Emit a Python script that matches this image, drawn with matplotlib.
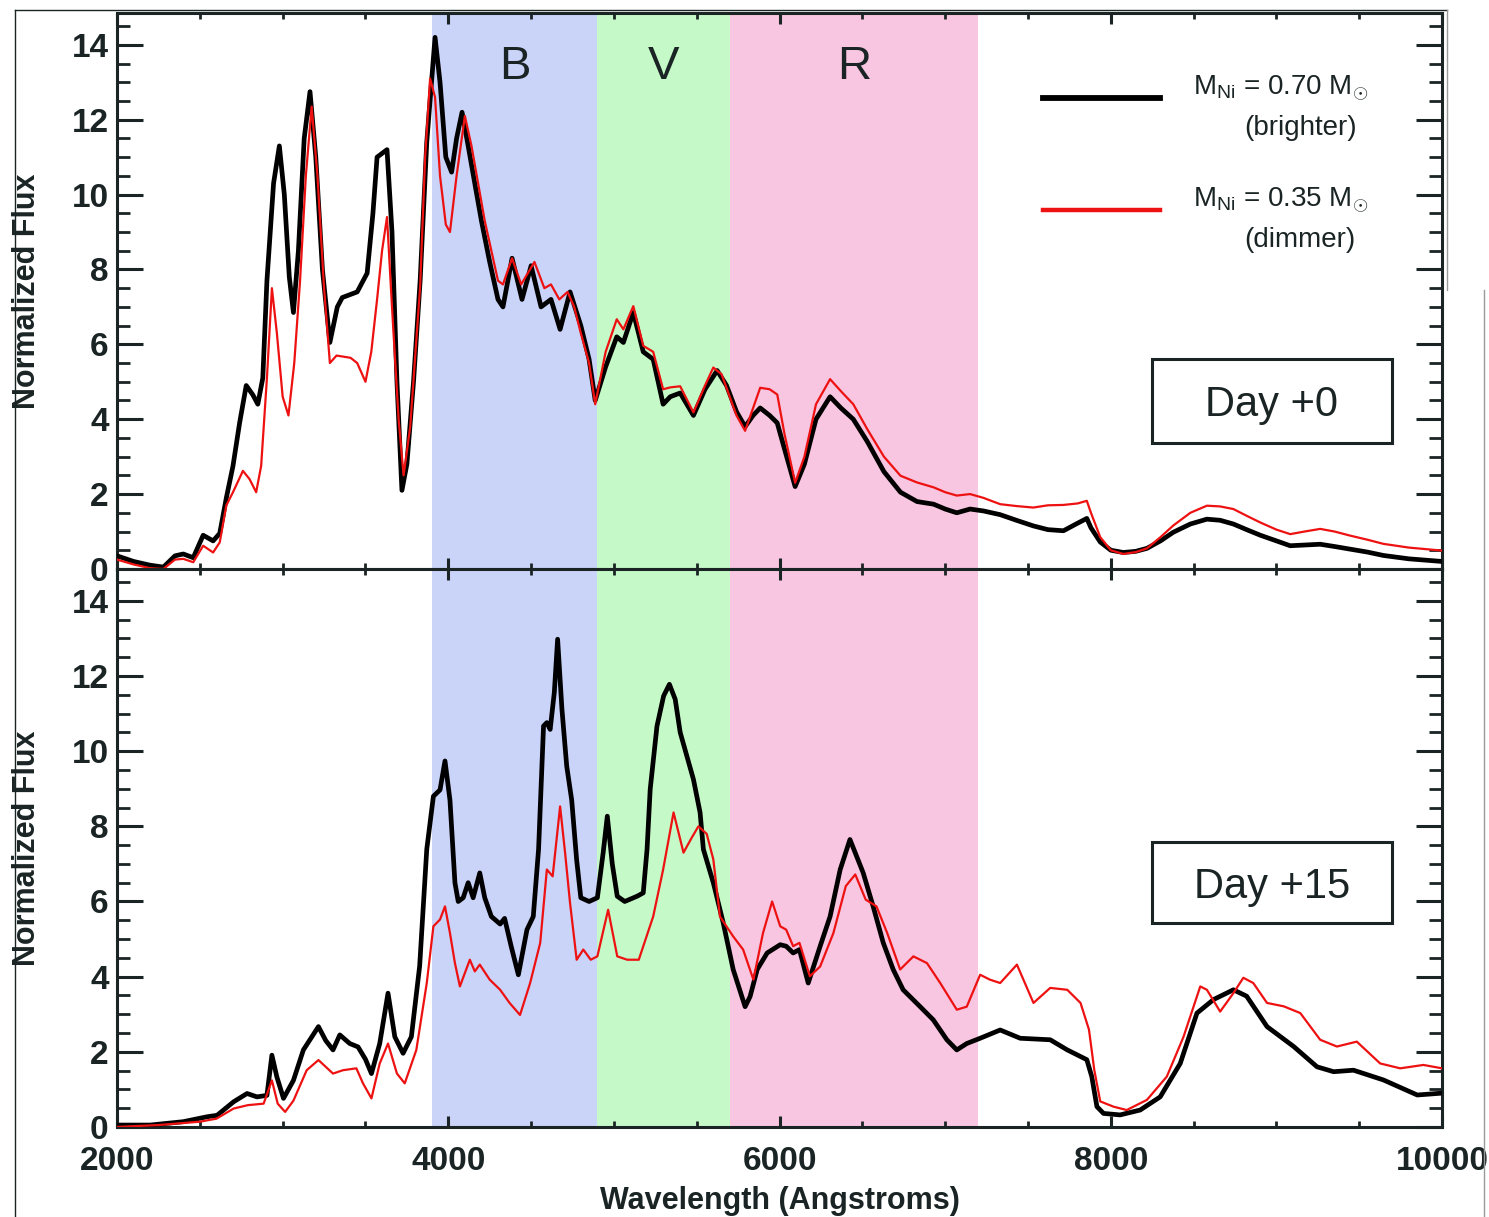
import numpy as np
import matplotlib
matplotlib.use("Agg")
import matplotlib.pyplot as plt
from matplotlib.ticker import MultipleLocator
from matplotlib.patches import Rectangle
from matplotlib.lines import Line2D

plt.rcParams['font.family'] = ['Liberation Sans', 'DejaVu Sans']
plt.rcParams['mathtext.fontset'] = 'custom'
plt.rcParams['mathtext.rm'] = 'Liberation Sans'
plt.rcParams['mathtext.it'] = 'Liberation Sans:italic'

INK = '#1b2424'

# ---- Day +0 spectra (wavelength in Angstroms, normalized flux)
wl_d0_bright = [2000, 2100, 2200, 2280, 2350, 2400, 2460, 2520, 2580, 2620, 2660, 2700, 2740, 2780,
                2820, 2850, 2880, 2905, 2945, 2980, 3010, 3040, 3065, 3095, 3130, 3165, 3200, 3240,
                3285, 3330, 3360, 3450, 3510, 3545, 3570, 3630, 3660, 3690, 3720, 3750, 3790, 3830,
                3870, 3920, 3950, 3985, 4020, 4050, 4083, 4120, 4160, 4200, 4250, 4300, 4330, 4385,
                4445, 4500, 4560, 4620, 4675, 4735, 4800, 4850, 4887, 4950, 5017, 5057, 5117, 5177,
                5237, 5297, 5340, 5400, 5480, 5550, 5623, 5680, 5740, 5792, 5840, 5883, 5940, 5986,
                6030, 6094, 6150, 6220, 6305, 6370, 6445, 6530, 6630, 6730, 6830, 6930, 7000, 7070,
                7150, 7230, 7332, 7430, 7532, 7620, 7714, 7790, 7855, 7880, 7936, 8000, 8075, 8150,
                8218, 8300, 8377, 8480, 8580, 8660, 8740, 8820, 8903, 9000, 9083, 9170, 9264, 9350,
                9445, 9550, 9646, 9800, 10000]
fx_d0_bright = [0.35, 0.2, 0.1, 0.05, 0.35, 0.4, 0.3, 0.9, 0.75, 0.95, 1.9, 2.75, 3.9, 4.9,
                4.65, 4.4, 5.1, 7.7, 10.3, 11.3, 10.0, 7.8, 6.85, 8.5, 11.5, 12.75, 11.0, 8.0,
                6.05, 7.0, 7.25, 7.4, 7.9, 9.5, 11.0, 11.2, 9.0, 5.0, 2.1, 2.8, 5.0, 7.7,
                11.4, 14.2, 13.0, 11.0, 10.6, 11.5, 12.2, 11.3, 10.3, 9.3, 8.2, 7.2, 7.0, 8.3,
                7.2, 8.1, 7.0, 7.2, 6.4, 7.4, 6.5, 5.6, 4.5, 5.4, 6.2, 6.05, 6.85, 5.8,
                5.6, 4.4, 4.6, 4.7, 4.1, 4.8, 5.3, 4.9, 4.2, 3.8, 4.1, 4.3, 4.1, 3.9,
                3.2, 2.2, 2.8, 4.0, 4.6, 4.3, 4.0, 3.4, 2.6, 2.05, 1.8, 1.73, 1.6, 1.5,
                1.6, 1.55, 1.45, 1.3, 1.15, 1.05, 1.02, 1.2, 1.35, 1.1, 0.72, 0.5, 0.44, 0.47,
                0.55, 0.75, 0.98, 1.2, 1.33, 1.3, 1.2, 1.05, 0.9, 0.75, 0.62, 0.64, 0.66, 0.6,
                0.53, 0.45, 0.36, 0.27, 0.2]

wl_d0_dim = [2000, 2100, 2200, 2280, 2350, 2400, 2460, 2520, 2580, 2620, 2660, 2700, 2760, 2800,
             2840, 2870, 2905, 2935, 2965, 3000, 3035, 3070, 3105, 3140, 3175, 3210, 3250, 3285,
             3325, 3410, 3450, 3500, 3535, 3570, 3600, 3630, 3660, 3700, 3730, 3770, 3830, 3860,
             3890, 3920, 3950, 3985, 4010, 4050, 4100, 4140, 4180, 4220, 4260, 4300, 4330, 4385,
             4440, 4520, 4580, 4620, 4670, 4720, 4760, 4800, 4850, 4887, 4950, 5017, 5057, 5117,
             5177, 5237, 5297, 5340, 5400, 5480, 5550, 5600, 5650, 5740, 5792, 5840, 5883, 5940,
             5986, 6030, 6094, 6150, 6220, 6305, 6370, 6445, 6530, 6630, 6730, 6830, 6930, 7000,
             7070, 7150, 7230, 7332, 7430, 7532, 7620, 7714, 7800, 7855, 7880, 7936, 8000, 8075,
             8150, 8218, 8300, 8377, 8480, 8580, 8660, 8740, 8820, 8903, 9000, 9083, 9170, 9264,
             9350, 9445, 9550, 9646, 9800, 10000]
fx_d0_dim = [0.25, 0.12, 0.02, 0.0, 0.25, 0.27, 0.18, 0.62, 0.44, 0.71, 1.7, 2.05, 2.62, 2.4,
             2.05, 2.75, 5.1, 7.5, 6.3, 4.6, 4.1, 5.5, 7.7, 10.5, 12.35, 10.5, 7.5, 5.5,
             5.7, 5.64, 5.5, 5.0, 5.8, 7.2, 8.5, 9.4, 7.0, 4.0, 2.5, 3.8, 7.55, 11.0,
             13.1, 12.6, 10.5, 9.2, 9.0, 10.5, 12.1, 11.3, 10.3, 9.3, 8.5, 7.7, 7.6, 8.3,
             7.6, 8.2, 7.5, 7.6, 7.2, 7.4, 7.0, 6.3, 5.5, 4.4, 5.8, 6.67, 6.4, 7.02,
             5.96, 5.8, 4.8, 4.85, 4.88, 4.18, 4.9, 5.38, 5.2, 4.1, 3.69, 4.3, 4.84, 4.8,
             4.66, 3.6, 2.3, 3.0, 4.4, 5.07, 4.75, 4.4, 3.73, 3.0, 2.49, 2.31, 2.18, 2.05,
             1.96, 2.0, 1.9, 1.73, 1.68, 1.64, 1.7, 1.71, 1.75, 1.82, 1.5, 0.85, 0.5, 0.4,
             0.45, 0.55, 0.85, 1.16, 1.5, 1.69, 1.67, 1.6, 1.42, 1.24, 1.05, 0.93, 1.0, 1.07,
             1.0, 0.89, 0.78, 0.67, 0.57, 0.49]

# ---- Day +15 spectra
wl_d15_bright = [2000, 2200, 2400, 2543, 2604, 2704, 2785, 2845, 2905, 2935, 2965, 3005, 3065, 3125,
                 3216, 3260, 3304, 3345, 3405, 3455, 3500, 3536, 3586, 3636, 3677, 3727, 3777, 3827,
                 3870, 3910, 3950, 3980, 4010, 4040, 4060, 4090, 4120, 4150, 4190, 4220, 4260, 4313,
                 4340, 4380, 4423, 4475, 4513, 4545, 4575, 4595, 4615, 4640, 4660, 4686, 4715, 4745,
                 4775, 4800, 4850, 4900, 4935, 4960, 4990, 5020, 5065, 5140, 5177, 5200, 5219, 5260,
                 5300, 5335, 5370, 5400, 5440, 5480, 5520, 5540, 5600, 5660, 5720, 5792, 5822, 5865,
                 5925, 6004, 6040, 6082, 6120, 6173, 6245, 6305, 6366, 6425, 6505, 6565, 6626, 6686,
                 6746, 6849, 6928, 7010, 7070, 7130, 7211, 7332, 7453, 7634, 7737, 7855, 7885, 7916,
                 7956, 8056, 8177, 8298, 8419, 8520, 8620, 8740, 8820, 8943, 9104, 9245, 9345, 9465,
                 9646, 9850, 10000]
fx_d15_bright = [0.05, 0.05, 0.14, 0.27, 0.31, 0.67, 0.89, 0.8, 0.84, 1.91, 1.33, 0.76, 1.24, 2.05,
                 2.67, 2.3, 2.05, 2.45, 2.22, 2.13, 1.8, 1.42, 2.22, 3.56, 2.4, 1.96, 2.4, 4.28,
                 7.39, 8.8, 8.97, 9.74, 8.7, 6.5, 6.0, 6.1, 6.5, 6.1, 6.76, 6.1, 5.6, 5.4,
                 5.55, 4.8, 4.05, 5.25, 5.6, 7.39, 10.67, 10.76, 10.58, 11.56, 12.98, 11.12, 9.6, 8.7,
                 7.1, 6.1, 6.0, 6.1, 7.3, 8.27, 7.0, 6.14, 6.0, 6.14, 6.23, 7.39, 8.99, 10.67,
                 11.47, 11.78, 11.38, 10.5, 9.88, 9.25, 8.37, 7.39, 6.5, 5.43, 4.19, 3.2, 3.47, 4.19,
                 4.63, 4.85, 4.81, 4.63, 4.72, 3.83, 4.81, 5.6, 6.85, 7.65, 6.76, 5.87, 4.9, 4.19,
                 3.65, 3.2, 2.85, 2.32, 2.05, 2.22, 2.36, 2.58, 2.36, 2.32, 2.05, 1.79, 1.34, 0.54,
                 0.36, 0.32, 0.45, 0.8, 1.69, 3.03, 3.39, 3.65, 3.48, 2.67, 2.14, 1.6, 1.47, 1.51,
                 1.25, 0.85, 0.9]

wl_d15_dim = [2000, 2250, 2500, 2600, 2704, 2790, 2885, 2935, 2970, 3015, 3065, 3145, 3216, 3304,
              3364, 3445, 3485, 3536, 3586, 3636, 3690, 3737, 3807, 3870, 3910, 3950, 3980, 4010,
              4040, 4070, 4130, 4160, 4190, 4250, 4313, 4370, 4433, 4494, 4555, 4595, 4630, 4675,
              4705, 4735, 4775, 4815, 4860, 4900, 4965, 5020, 5080, 5150, 5237, 5297, 5360, 5420,
              5470, 5510, 5560, 5600, 5640, 5720, 5780, 5842, 5900, 5955, 6004, 6040, 6082, 6120,
              6183, 6245, 6325, 6400, 6457, 6520, 6585, 6650, 6728, 6808, 6890, 6970, 7070, 7130,
              7211, 7270, 7332, 7433, 7533, 7634, 7737, 7817, 7868, 7900, 7936, 8016, 8096, 8218,
              8338, 8439, 8540, 8580, 8660, 8740, 8800, 8860, 8943, 9044, 9144, 9264, 9365, 9485,
              9626, 9747, 9887, 10000]
fx_d15_dim = [0.0, 0.05, 0.14, 0.22, 0.49, 0.58, 0.62, 1.24, 0.62, 0.4, 0.7, 1.51, 1.78, 1.42,
              1.51, 1.56, 1.16, 0.76, 1.69, 2.22, 1.42, 1.16, 2.05, 3.83, 5.34, 5.52, 5.87, 5.16,
              4.36, 3.74, 4.45, 4.14, 4.32, 3.92, 3.65, 3.3, 2.98, 3.83, 4.9, 6.85, 6.67, 8.53,
              7.3, 5.96, 4.45, 4.72, 4.45, 4.54, 5.78, 4.54, 4.45, 4.45, 5.6, 6.85, 8.37, 7.3,
              7.7, 8.0, 7.8, 7.12, 5.6, 5.07, 4.72, 3.92, 5.16, 6.0, 5.34, 5.25, 4.81, 4.9,
              4.01, 4.27, 5.16, 6.41, 6.72, 6.05, 5.87, 5.16, 4.19, 4.54, 4.36, 3.83, 3.12, 3.2,
              4.05, 3.92, 3.83, 4.32, 3.3, 3.7, 3.65, 3.3, 2.59, 1.52, 0.68, 0.54, 0.45, 0.72,
              1.34, 2.4, 3.74, 3.65, 3.07, 3.56, 3.97, 3.83, 3.3, 3.21, 3.03, 2.32, 2.14, 2.27,
              1.69, 1.56, 1.65, 1.56]

# photometric bands: (name, start, end, colour)
band_names = ['B', 'V', 'R']
band_lo = [3900, 4900, 5700]
band_hi = [4900, 5700, 7200]
band_colors = ['#cad3f8', '#c6f9c8', '#f8c6e0']

legend_labels = [r'M$_{\mathrm{Ni}}$ = 0.70 M$_{\odot}$', r'M$_{\mathrm{Ni}}$ = 0.35 M$_{\odot}$']
legend_notes = ['(brighter)', '(dimmer)']

fig = plt.figure(figsize=(14.89, 12.17), dpi=100)
ax_top = fig.add_axes([0.0786, 0.5325, 0.8899, 0.4568])
ax_bot = fig.add_axes([0.0786, 0.0740, 0.8899, 0.4585])


def style_axis(ax):
    ax.set_xlim(2000, 10000)
    ax.set_ylim(0, 14.85)
    ax.xaxis.set_major_locator(MultipleLocator(2000))
    ax.xaxis.set_minor_locator(MultipleLocator(500))
    ax.yaxis.set_major_locator(MultipleLocator(2))
    ax.yaxis.set_minor_locator(MultipleLocator(0.5))
    ax.tick_params(axis='x', which='major', direction='in', length=8, width=2.2,
                   top=True, bottom=True, colors=INK, pad=14, labelsize=24)
    ax.tick_params(axis='x', which='minor', direction='in', length=4, width=2.0,
                   top=True, bottom=True, colors=INK)
    ax.tick_params(axis='y', which='major', direction='in', length=19, width=2.2,
                   left=True, right=True, colors=INK, pad=6, labelsize=24)
    ax.tick_params(axis='y', which='minor', direction='in', length=9.5, width=2.0,
                   left=True, right=True, colors=INK)
    for lab in ax.get_xticklabels() + ax.get_yticklabels():
        lab.set_fontweight('bold')
    for sp in ax.spines.values():
        sp.set_linewidth(2.2)
        sp.set_color(INK)
    for lo, hi, c in zip(band_lo, band_hi, band_colors):
        ax.axvspan(lo, hi, color=c, lw=0, zorder=0)
    ax.set_ylabel('Normalized Flux', fontsize=22, fontweight='bold', color=INK)
    ax.yaxis.set_label_coords(-0.0566, 0.5)


style_axis(ax_top)
style_axis(ax_bot)
ax_top.tick_params(axis='x', labelbottom=False)

ax_top.plot(wl_d0_bright, fx_d0_bright, color='black', lw=3.4, solid_joinstyle='round', zorder=3)
ax_top.plot(wl_d0_dim, fx_d0_dim, color='#ee1111', lw=1.6, zorder=4)
ax_bot.plot(wl_d15_bright, fx_d15_bright, color='black', lw=3.4, solid_joinstyle='round', zorder=3)
ax_bot.plot(wl_d15_dim, fx_d15_dim, color='#ee1111', lw=1.6, zorder=4)

# band letters
for name, lo, hi in zip(band_names, band_lo, band_hi):
    ax_top.text((lo + hi) / 2, 13.42, name, ha='center', va='center',
                fontsize=34, color=INK)

ax_bot.set_xlabel('Wavelength (Angstroms)', fontsize=22, fontweight='bold', color=INK, labelpad=6)

# legend drawn by hand in axes coordinates
for y_line, y_lab, y_note, col, lw, lab, note in zip(
        [0.847, 0.646], [0.865, 0.664], [0.793, 0.592], ['black', '#ee1111'], [4.2, 3.2],
        legend_labels, legend_notes):
    ax_top.add_line(Line2D([0.699, 0.787], [y_line, y_line], transform=ax_top.transAxes,
                           color=col, lw=lw, zorder=5))
    ax_top.text(0.812, y_lab, lab, transform=ax_top.transAxes, ha='left', va='center',
                fontsize=20, color=INK)
    ax_top.text(0.893, y_note, note, transform=ax_top.transAxes, ha='center', va='center',
                fontsize=20, color=INK)

# day boxes
for ax, (y0, y1), ytxt, label in [(ax_top, (0.227, 0.378), 0.295, 'Day +0'),
                                   (ax_bot, (0.366, 0.511), 0.430, 'Day +15')]:
    ax.add_patch(Rectangle((0.781, y0), 0.181, y1 - y0, transform=ax.transAxes,
                           fill=False, ec=INK, lw=2.2, zorder=5))
    ax.text(0.8715, ytxt, label, transform=ax.transAxes, ha='center', va='center',
            fontsize=30, color=INK)

# thin frame around the figure
W, H = 1489.0, 1217.0
for xs, ys, col in [([15, 15], [10, H], INK), ([15, 1447], [10, 10], INK),
                    ([1447, 1447], [10, 290], '#9a9a9a'), ([1484, 1484], [290, H], '#9a9a9a')]:
    fig.add_artist(Line2D([x / W for x in xs], [1 - y / H for y in ys],
                          transform=fig.transFigure, color=col, lw=1.0))

fig.savefig('out.png', dpi=100)
